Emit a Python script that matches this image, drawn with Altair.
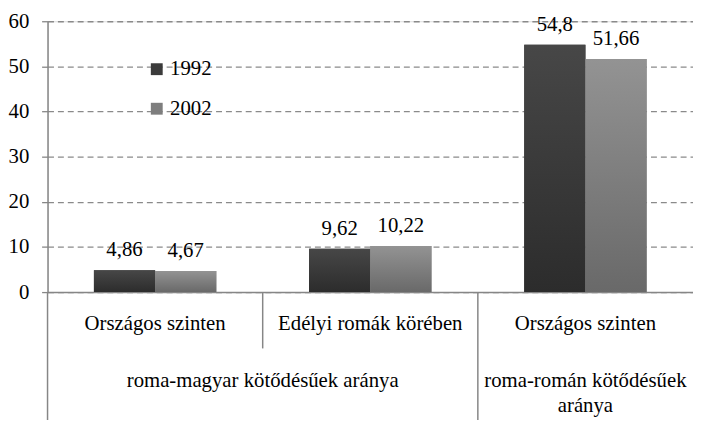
import altair as alt
import pandas as pd

# ---- data ----
cat_ids = [0, 1, 2]
cat_labels = ["Országos szinten", "Edélyi romák körében", "Országos szinten"]
years = ["1992", "2002"]
values_1992 = [4.86, 9.62, 54.8]
values_2002 = [4.67, 10.22, 51.66]

group_labels = ["roma-magyar kötődésűek aránya", "roma-román kötődésűek\naránya"]
group_start = [0, 2]
group_end = [2, 3]

FONT = "'Liberation Serif', 'DejaVu Serif', serif"
FS = 21

rows = []
for i, c in enumerate(cat_ids):
    rows.append({"cat": c, "year": years[0], "value": values_1992[i]})
    rows.append({"cat": c, "year": years[1], "value": values_2002[i]})
bars_df = pd.DataFrame(rows)

cats_df = pd.DataFrame({"cat": cat_ids, "label": cat_labels})
groups_df = pd.DataFrame({"label": group_labels, "start": group_start, "end": group_end})
sep_rows = []
for s, e in zip(group_start, group_end):
    sep_rows.append({"pos": s, "kind": "group"})
    for b in range(s + 1, e):
        sep_rows.append({"pos": b, "kind": "inner"})
sep_df = pd.DataFrame(sep_rows)

grad_dark = alt.Gradient(
    gradient="linear", x1=0, x2=0, y1=0, y2=1,
    stops=[alt.GradientStop(color="#474747", offset=0),
           alt.GradientStop(color="#2c2c2c", offset=1)])
grad_light = alt.Gradient(
    gradient="linear", x1=0, x2=0, y1=0, y2=1,
    stops=[alt.GradientStop(color="#939393", offset=0),
           alt.GradientStop(color="#696969", offset=1)])

x_enc = alt.X("cat:O", scale=alt.Scale(paddingInner=0, paddingOuter=0),
              axis=alt.Axis(labels=False, ticks=False, title=None, domainColor="#868686",
                            domainWidth=1.5))
xo_enc = alt.XOffset("year:N", scale=alt.Scale(domain=years, paddingInner=0, paddingOuter=0.758))
y_enc = alt.Y("value:Q", scale=alt.Scale(domain=[0, 60], nice=False),
              axis=alt.Axis(values=[0, 10, 20, 30, 40, 50, 60], title=None,
                            grid=True, gridDash=[6, 4], gridColor="#8a8a8a", gridWidth=1.3,
                            domainColor="#868686", domainWidth=1.5,
                            tickColor="#868686", tickSize=6, tickWidth=1.3,
                            labelPadding=13, labelFontSize=FS, labelFont=FONT,
                            labelColor="#000000"))

base = alt.Chart(bars_df)

legend_bars = base.mark_bar().encode(
    x=x_enc, xOffset=xo_enc, y=y_enc,
    color=alt.Color("year:N", scale=alt.Scale(domain=years, range=["#3b3b3b", "#7e7e7e"]),
                    legend=alt.Legend(title=None, orient="none", legendX=100, legendY=38,
                                      padding=0, symbolType="square", symbolSize=144,
                                      symbolStrokeWidth=0, labelFontSize=FS, labelFont=FONT,
                                      labelColor="#000000", labelOffset=3, rowPadding=18)))

dark = base.transform_filter(alt.datum.year == years[0]).mark_bar(fill=grad_dark).encode(
    x=x_enc, xOffset=xo_enc, y=y_enc)
light = base.transform_filter(alt.datum.year == years[1]).mark_bar(fill=grad_light).encode(
    x=x_enc, xOffset=xo_enc, y=y_enc)

vals = base.transform_calculate(
    txt="replace(toString(datum.value), '.', ',')"
).mark_text(baseline="alphabetic", dy=-14, fontSize=FS, font=FONT, color="#000000").encode(
    x=x_enc, xOffset=xo_enc, y=y_enc, text="txt:N")

bar_layer = alt.layer(legend_bars, dark, light, vals)

xq = alt.Scale(domain=[0, 3], nice=False, zero=False)

inner_labels = alt.Chart(cats_df).transform_calculate(mid="datum.cat + 0.5").mark_text(
    baseline="middle", fontSize=FS, font=FONT, color="#000000").encode(
    x=alt.X("mid:Q", scale=xq, axis=None), y=alt.value(306), text="label:N")

outer_labels = alt.Chart(groups_df).transform_calculate(mid="(datum.start + datum.end) / 2").mark_text(
    baseline="top", fontSize=FS, font=FONT, color="#000000", lineBreak="\n", lineHeight=25).encode(
    x=alt.X("mid:Q", scale=xq, axis=None), y=alt.value(353), text="label:N")

seps_inner = alt.Chart(sep_df).transform_filter(alt.datum.kind == "inner").mark_rule(
    color="#868686", strokeWidth=1.5).encode(
    x=alt.X("pos:Q", scale=xq, axis=None), y=alt.value(274), y2=alt.value(331))
seps_group = alt.Chart(sep_df).transform_filter(alt.datum.kind == "group").mark_rule(
    color="#868686", strokeWidth=1.5).encode(
    x=alt.X("pos:Q", scale=xq, axis=None), y=alt.value(274), y2=alt.value(420))

ann_layer = alt.layer(inner_labels, outer_labels, seps_inner, seps_group)

chart = alt.layer(bar_layer, ann_layer).resolve_scale(x="independent").properties(
    width=653, height=274,
    padding={"left": 40, "top": 11, "right": 0, "bottom": 127},
    autosize=alt.AutoSizeParams(type="none"),
).configure_view(stroke=None).configure(background="#ffffff")

chart.save("out.html", embed_options={"renderer": "svg", "actions": False})
